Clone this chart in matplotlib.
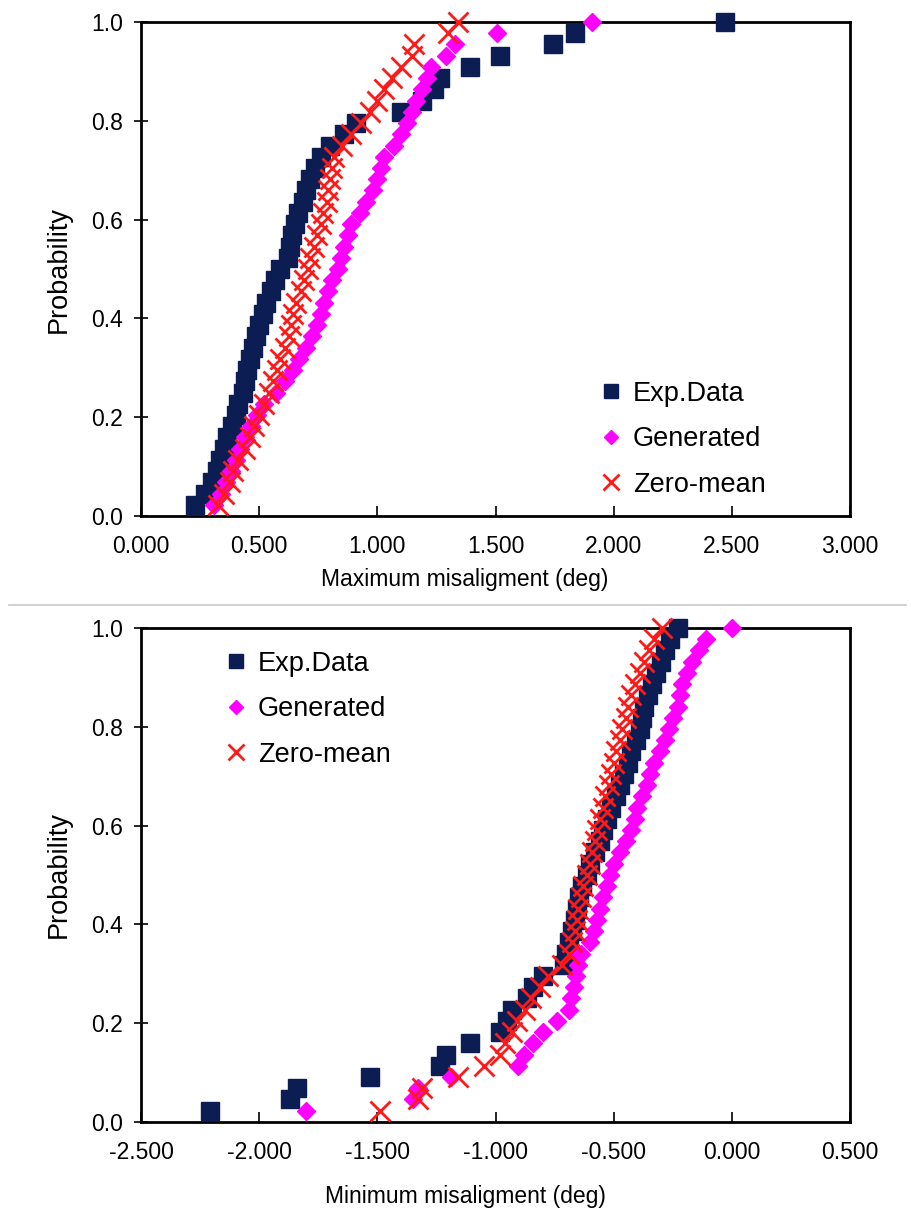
import numpy as np
import matplotlib
matplotlib.use("Agg")
import matplotlib.pyplot as plt
from matplotlib.lines import Line2D

plt.rcParams['font.family'] = ['Liberation Sans', 'DejaVu Sans']

# Maximum misalignment samples (deg)
max_exp = [0.228, 0.27, 0.30, 0.32, 0.335, 0.35, 0.365, 0.385, 0.40, 0.41,
           0.43, 0.44, 0.45, 0.462, 0.474, 0.485, 0.50, 0.516, 0.53, 0.55,
           0.565, 0.59, 0.62, 0.63, 0.64, 0.65, 0.665, 0.685, 0.70, 0.715,
           0.735, 0.76, 0.80, 0.86, 0.91, 1.10, 1.19, 1.24, 1.265, 1.39,
           1.52, 1.745, 1.837, 2.47]
max_gen = [0.31, 0.34, 0.36, 0.38, 0.40, 0.42, 0.44, 0.465, 0.49, 0.52,
           0.57, 0.61, 0.645, 0.67, 0.70, 0.725, 0.745, 0.76, 0.775, 0.79,
           0.81, 0.835, 0.845, 0.86, 0.875, 0.89, 0.925, 0.95, 0.98, 1.00,
           1.015, 1.03, 1.07, 1.10, 1.125, 1.145, 1.165, 1.19, 1.21, 1.225,
           1.29, 1.33, 1.505, 1.91]
max_zero = [0.325, 0.35, 0.375, 0.39, 0.41, 0.44, 0.46, 0.48, 0.50, 0.52,
            0.54, 0.56, 0.575, 0.59, 0.61, 0.625, 0.635, 0.645, 0.655, 0.675,
            0.69, 0.705, 0.715, 0.73, 0.745, 0.76, 0.77, 0.785, 0.79, 0.80,
            0.81, 0.815, 0.85, 0.89, 0.93, 0.97, 1.00, 1.03, 1.06, 1.10,
            1.145, 1.155, 1.30, 1.34]

# Minimum misalignment samples (deg)
min_exp = [-2.21, -1.87, -1.84, -1.53, -1.235, -1.21, -1.11, -0.98, -0.95, -0.93,
           -0.865, -0.84, -0.80, -0.71, -0.70, -0.69, -0.675, -0.665, -0.655, -0.645,
           -0.635, -0.615, -0.60, -0.58, -0.56, -0.545, -0.53, -0.51, -0.49, -0.475,
           -0.455, -0.44, -0.425, -0.405, -0.39, -0.38, -0.37, -0.355, -0.34, -0.32,
           -0.30, -0.285, -0.26, -0.23]
min_gen = [-1.80, -1.35, -1.33, -1.19, -0.905, -0.88, -0.84, -0.80, -0.74, -0.69,
           -0.68, -0.67, -0.66, -0.65, -0.64, -0.60, -0.585, -0.57, -0.56, -0.545,
           -0.53, -0.515, -0.50, -0.475, -0.45, -0.425, -0.41, -0.40, -0.38, -0.36,
           -0.345, -0.33, -0.305, -0.285, -0.265, -0.25, -0.23, -0.22, -0.21, -0.19,
           -0.17, -0.14, -0.11, 0.00]
min_zero = [-1.49, -1.33, -1.31, -1.16, -1.05, -0.98, -0.96, -0.93, -0.91, -0.875,
            -0.85, -0.81, -0.78, -0.72, -0.69, -0.675, -0.665, -0.655, -0.65, -0.64,
            -0.63, -0.615, -0.60, -0.59, -0.58, -0.57, -0.56, -0.545, -0.535, -0.52,
            -0.51, -0.50, -0.49, -0.475, -0.465, -0.45, -0.44, -0.425, -0.41, -0.39,
            -0.37, -0.35, -0.33, -0.295]

series_labels = ["Exp.Data", "Generated", "Zero-mean"]
max_xticks = [0.0, 0.5, 1.0, 1.5, 2.0, 2.5, 3.0]
min_xticks = [-2.5, -2.0, -1.5, -1.0, -0.5, 0.0, 0.5]
y_ticks = [0.0, 0.2, 0.4, 0.6, 0.8, 1.0]

NAVY = "#0b1d52"
MAGENTA = "#ff00ff"
RED = "#ff1a1a"
TXT = 16.5


def ecdf(values):
    v = np.sort(np.asarray(values, dtype=float))
    return v, np.arange(1, v.size + 1) / v.size


def draw_panel(ax, exp, gen, zero, xticks, xlabel, xlabel_y, legend_anchor):
    x, p = ecdf(exp)
    ax.plot(x, p, ls="none", marker="s", ms=13, color=NAVY, mec=NAVY,
            label=series_labels[0], clip_on=False, zorder=3)
    x, p = ecdf(gen)
    ax.plot(x, p, ls="none", marker="D", ms=9.3, color=MAGENTA, mec=MAGENTA,
            label=series_labels[1], clip_on=False, zorder=4)
    x, p = ecdf(zero)
    ax.plot(x, p, ls="none", marker="x", ms=14, mew=2.0, color=RED,
            label=series_labels[2], clip_on=False, zorder=5)

    ax.set_xlim(xticks[0], xticks[-1])
    ax.set_ylim(0, 1)
    ax.set_xticks(xticks)
    ax.set_xticklabels([f"{t:.3f}" for t in xticks])
    ax.set_yticks(y_ticks)
    ax.set_yticklabels([f"{t:.1f}" for t in y_ticks])
    ax.tick_params(axis="x", direction="in", length=7, width=1.2,
                   labelsize=TXT, pad=14)
    ax.tick_params(axis="y", direction="inout", length=10, width=1.2,
                   labelsize=TXT, pad=8)
    for s in ax.spines.values():
        s.set_linewidth(2)
        s.set_color("black")
    ax.set_xlabel(xlabel, fontsize=TXT)
    ax.xaxis.set_label_coords(0.457, xlabel_y)
    ax.set_ylabel("Probability", fontsize=TXT + 3, labelpad=14)
    leg = ax.legend(loc="upper left", bbox_to_anchor=legend_anchor,
                    frameon=False, fontsize=TXT + 3, handletextpad=0.3,
                    labelspacing=0.72, markerscale=0.8, handlelength=1.0,
                    borderaxespad=0)
    return leg


fig = plt.figure(figsize=(9.11, 12.09), dpi=100)
ax_top = fig.add_axes([0.1548, 0.5732, 0.7783, 0.4086])
ax_bot = fig.add_axes([0.1548, 0.0720, 0.7783, 0.4086])

draw_panel(ax_top, max_exp, max_gen, max_zero, max_xticks,
           "Maximum misaligment (deg)", -0.105, (0.629, 0.2955))
draw_panel(ax_bot, min_exp, min_gen, min_zero, min_xticks,
           "Minimum misaligment (deg)", -0.128, (0.10, 0.976))

# thin rule separating the two panels
fig.add_artist(Line2D([0.01, 0.995], [1 - 605 / 1209, 1 - 605 / 1209],
                      transform=fig.transFigure, color="#c8c8c8", lw=1.2))

fig.savefig("out.png", dpi=100)
